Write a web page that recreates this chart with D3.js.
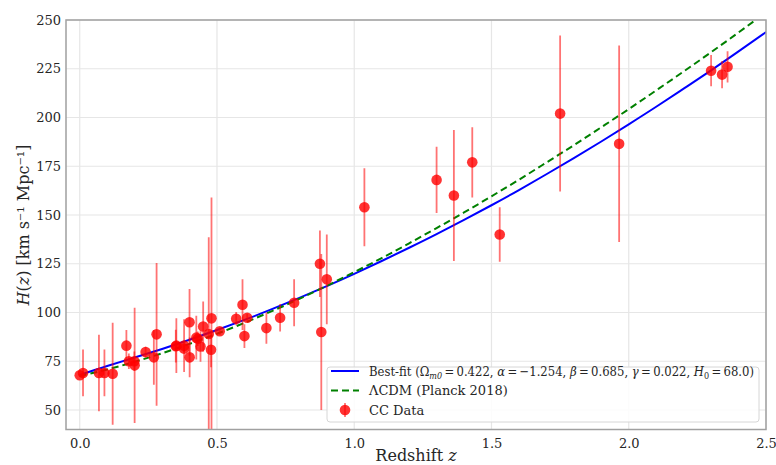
<!DOCTYPE html>
<html>
<head>
<meta charset="utf-8">
<script src="https://cdn.jsdelivr.net/npm/d3@7"></script>
<style>
  html, body { margin: 0; padding: 0; background: #fff; }
  svg { display: block; font-family: "DejaVu Serif", serif; }
</style>
</head>
<body>
<svg id="chart" width="776" height="465"></svg>
<script>
// CC data: redshift, H(z), 1-sigma error
var ccZ = [0.0, 0.012, 0.07, 0.09, 0.12, 0.17, 0.179, 0.199, 0.20, 0.24, 0.27, 0.28,
  0.35, 0.352, 0.38, 0.3802, 0.40, 0.4004, 0.4247, 0.43, 0.44, 0.4497, 0.47, 0.4783,
  0.48, 0.51, 0.57, 0.593, 0.60, 0.61, 0.68, 0.73, 0.781, 0.875, 0.88, 0.90, 1.037,
  1.30, 1.363, 1.43, 1.53, 1.75, 1.965, 2.30, 2.34, 2.36];
var ccH = [67.8, 69.0, 69.0, 69.0, 68.6, 83.0, 75.0, 75.0, 72.9, 79.7, 77.0, 88.8,
  82.7, 83.0, 81.5, 83.0, 95.0, 77.0, 87.1, 86.5, 82.6, 92.8, 89.0, 80.9,
  97.0, 90.4, 96.8, 104.0, 87.9, 97.3, 92.0, 97.3, 105.0, 125.0, 90.0, 117.0, 154.0,
  168.0, 160.0, 177.0, 140.0, 202.0, 186.5, 224.0, 222.0, 226.0];
var ccErr = [0.6, 12.0, 19.6, 12.0, 26.2, 8.0, 4.0, 5.0, 29.6, 2.7, 14.0, 36.6,
  8.4, 14.0, 1.9, 13.5, 17.0, 10.2, 11.2, 3.7, 7.8, 12.9, 49.6, 9.0,
  62.0, 1.9, 3.4, 13.0, 6.1, 2.1, 8.0, 7.0, 12.0, 17.0, 40.0, 23.0, 20.0,
  17.0, 33.6, 18.0, 14.0, 40.0, 50.4, 8.0, 7.0, 8.0];

// model curves (every 0.1 in z)
var curveZ   = [0, 0.1, 0.2, 0.3, 0.4, 0.5, 0.6, 0.7, 0.8, 0.9, 1.0, 1.1, 1.2, 1.3, 1.4,
  1.5, 1.6, 1.7, 1.8, 1.9, 2.0, 2.1, 2.2, 2.3, 2.4, 2.5];
var bestFitH = [68.0, 72.6, 76.9, 81.3, 86.0, 91.0, 96.2, 101.7, 107.5, 113.5, 119.8, 126.4, 133.2, 140.2, 147.5,
  155.0, 162.8, 170.9, 179.2, 187.7, 196.5, 205.5, 214.8, 224.2, 233.9, 243.8];
var lcdmH    = [67.4, 70.8, 74.7, 79.1, 83.9, 89.1, 94.7, 100.7, 107.0, 113.7, 120.7, 127.9, 135.5, 143.3, 151.3,
  159.6, 168.1, 176.9, 185.8, 195.0, 204.3, 213.9, 223.6, 233.5, 243.6, 253.9];

var xTicks = [0.0, 0.5, 1.0, 1.5, 2.0, 2.5];
var yTicks = [50, 75, 100, 125, 150, 175, 200, 225, 250];

(function () {
  var svg = d3.select('#chart');
  var plotLeft = 66, plotRight = 766, plotTop = 20, plotBottom = 429.5;

  var x = d3.scaleLinear().domain([-0.05, 2.5]).range([plotLeft, plotRight]);
  var y = d3.scaleLinear().domain([40, 250]).range([plotBottom, plotTop]);

  svg.append('defs').append('clipPath').attr('id', 'plot-clip')
    .append('rect')
    .attr('x', plotLeft).attr('y', plotTop)
    .attr('width', plotRight - plotLeft).attr('height', plotBottom - plotTop);

  // grid
  var grid = svg.append('g').attr('class', 'grid');
  grid.selectAll('line.gx').data(xTicks).enter().append('line')
    .attr('x1', d => x(d)).attr('x2', d => x(d))
    .attr('y1', plotTop).attr('y2', plotBottom)
    .attr('stroke', '#e6e6e6').attr('stroke-width', 1.2);
  grid.selectAll('line.gy').data(yTicks).enter().append('line')
    .attr('x1', plotLeft).attr('x2', plotRight)
    .attr('y1', d => y(d)).attr('y2', d => y(d))
    .attr('stroke', '#e6e6e6').attr('stroke-width', 1.2);

  // axes (labels only, no tick marks)
  var xAxis = svg.append('g')
    .attr('transform', 'translate(0,' + plotBottom + ')')
    .call(d3.axisBottom(x).tickValues(xTicks).tickFormat(d3.format('.1f')).tickSize(0).tickPadding(9));
  var yAxis = svg.append('g')
    .attr('transform', 'translate(' + plotLeft + ',0)')
    .call(d3.axisLeft(y).tickValues(yTicks).tickFormat(d3.format('d')).tickSize(0).tickPadding(5));
  [xAxis, yAxis].forEach(function (a) {
    a.select('.domain').remove();
    a.selectAll('text')
      .style('font-family', '"DejaVu Serif", serif')
      .style('font-size', '13px')
      .attr('fill', '#262626');
  });

  var plot = svg.append('g').attr('clip-path', 'url(#plot-clip)');

  var line = d3.line()
    .x(d => x(d[0]))
    .y(d => y(d[1]))
    .curve(d3.curveNatural);

  plot.append('path')
    .datum(d3.zip(curveZ, bestFitH))
    .attr('d', line)
    .attr('fill', 'none')
    .attr('stroke', '#0000ff')
    .attr('stroke-width', 2);

  plot.append('path')
    .datum(d3.zip(curveZ, lcdmH))
    .attr('d', line)
    .attr('fill', 'none')
    .attr('stroke', '#008000')
    .attr('stroke-width', 2)
    .attr('stroke-dasharray', '7,4');

  // error bars then points
  var cc = d3.range(ccZ.length).map(i => ({ z: ccZ[i], h: ccH[i], e: ccErr[i] }));

  plot.selectAll('line.err').data(cc).enter().append('line')
    .attr('class', 'err')
    .attr('x1', d => x(d.z)).attr('x2', d => x(d.z))
    .attr('y1', d => y(d.h - d.e)).attr('y2', d => y(d.h + d.e))
    .attr('stroke', '#ff0000')
    .attr('stroke-opacity', 0.55)
    .attr('stroke-width', 1.8);

  plot.selectAll('circle.pt').data(cc).enter().append('circle')
    .attr('class', 'pt')
    .attr('cx', d => x(d.z)).attr('cy', d => y(d.h))
    .attr('r', 5.3)
    .attr('fill', '#ff0000')
    .attr('fill-opacity', 0.8);

  // frame
  svg.append('rect')
    .attr('x', plotLeft).attr('y', plotTop)
    .attr('width', plotRight - plotLeft).attr('height', plotBottom - plotTop)
    .attr('fill', 'none')
    .attr('stroke', '#a0a0a0')
    .attr('stroke-width', 1.5);

  // axis titles
  var xt = svg.append('text')
    .attr('x', 416).attr('y', 461)
    .attr('text-anchor', 'middle')
    .style('font-size', '16px')
    .attr('fill', '#262626');
  xt.append('tspan').text('Redshift ');
  xt.append('tspan').style('font-style', 'italic').text('z');

  var yt = svg.append('text')
    .attr('transform', 'translate(29,225) rotate(-90)')
    .attr('text-anchor', 'middle')
    .style('font-size', '16px')
    .attr('fill', '#262626');
  yt.append('tspan').style('font-style', 'italic').text('H');
  yt.append('tspan').text('(');
  yt.append('tspan').style('font-style', 'italic').text('z');
  yt.append('tspan').text(') [km s\u207B\u00B9 Mpc\u207B\u00B9]');

  // legend
  var legend = svg.append('g').attr('class', 'legend');
  legend.append('rect')
    .attr('x', 327).attr('y', 367)
    .attr('width', 432).attr('height', 55)
    .attr('rx', 3)
    .attr('fill', '#fff').attr('fill-opacity', 0.85)
    .attr('stroke', '#d6d6d6');

  var rowY = [371, 390.5, 410];
  legend.append('line')
    .attr('x1', 331).attr('x2', 359).attr('y1', rowY[0]).attr('y2', rowY[0])
    .attr('stroke', '#0000ff').attr('stroke-width', 2);
  legend.append('line')
    .attr('x1', 331).attr('x2', 359).attr('y1', rowY[1]).attr('y2', rowY[1])
    .attr('stroke', '#008000').attr('stroke-width', 2).attr('stroke-dasharray', '7,4');
  legend.append('line')
    .attr('x1', 345).attr('x2', 345).attr('y1', rowY[2] - 7).attr('y2', rowY[2] + 7)
    .attr('stroke', '#ff0000').attr('stroke-opacity', 0.55).attr('stroke-width', 1.8);
  legend.append('circle')
    .attr('cx', 345).attr('cy', rowY[2]).attr('r', 5.3)
    .attr('fill', '#ff0000').attr('fill-opacity', 0.8);

  function legText(yy) {
    return legend.append('text')
      .attr('x', 369).attr('y', yy + 4.5)
      .style('font-size', '13px')
      .attr('fill', '#262626');
  }
  var t1 = legText(rowY[0]).attr('textLength', 385).attr('lengthAdjust', 'spacingAndGlyphs');
  t1.append('tspan').text('Best-fit (\u03A9');
  t1.append('tspan').attr('dy', 3).style('font-size', '9px').style('font-style', 'italic').text('m0');
  t1.append('tspan').attr('dy', -3).text('\u2009=\u20090.422, ');
  t1.append('tspan').style('font-style', 'italic').text('\u03B1');
  t1.append('tspan').text('\u2009=\u2009\u22121.254, ');
  t1.append('tspan').style('font-style', 'italic').text('\u03B2');
  t1.append('tspan').text('\u2009=\u20090.685, ');
  t1.append('tspan').style('font-style', 'italic').text('\u03B3');
  t1.append('tspan').text('\u2009=\u20090.022, ');
  t1.append('tspan').style('font-style', 'italic').text('H');
  t1.append('tspan').attr('dy', 3).style('font-size', '9px').text('0');
  t1.append('tspan').attr('dy', -3).text('\u2009=\u200968.0)');

  legText(rowY[1]).text('\u039BCDM (Planck 2018)');
  legText(rowY[2]).text('CC Data');
})();
</script>
</body>
</html>
